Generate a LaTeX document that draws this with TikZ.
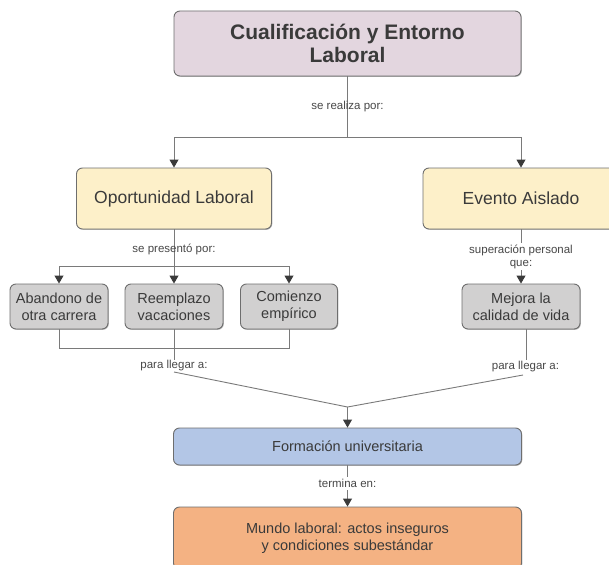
\documentclass[tikz,border=0pt]{standalone}
\usepackage{fontspec}
\setmainfont{Liberation Sans}
\usetikzlibrary{arrows.meta,shadows}

\definecolor{cTop}{HTML}{E3D6DF}
\definecolor{cYel}{HTML}{FDF0C9}
\definecolor{cGry}{HTML}{D1D0D0}
\definecolor{cBlu}{HTML}{B3C6E6}
\definecolor{cOra}{HTML}{F4B283}
\definecolor{boxline}{HTML}{6E6E6E}
\definecolor{linec}{HTML}{7A7A7A}
\definecolor{tipc}{HTML}{3A3A3A}
\definecolor{txt}{HTML}{3A3A3A}
\definecolor{lbltxt}{HTML}{474747}

\begin{document}
\begin{tikzpicture}[x=1pt,y=-1pt,
  box/.style={draw=boxline, line width=0.9pt, rounded corners=6pt, align=center,
    text=txt, inner sep=0pt,
    drop shadow={shadow xshift=0.8pt, shadow yshift=-0.8pt, opacity=0.3, fill=black}},
  big/.style={font=\fontsize{17.5}{21}\selectfont},
  mid/.style={font=\fontsize{14.5}{17}\selectfont},
  lbl/.style={font=\fontsize{11.5}{13}\selectfont, text=lbltxt, inner sep=1pt, align=center},
  link/.style={draw=linec, line width=0.9pt},
  arr/.style={link, -{Triangle[width=9pt,length=8pt,color=tipc]}},
]
\clip (0,0) rectangle (609,564);

% boxes
\node[box, fill=cTop, minimum width=347pt, minimum height=65pt,
  font=\fontsize{21}{23}\selectfont\bfseries] (top) at (347.5,43.5)
  {Cualificación y Entorno\\Laboral};
\node[box, fill=cYel, big, minimum width=195pt, minimum height=61pt] (op) at (174,198.5) {Oportunidad Laboral};
\node[box, fill=cYel, big, minimum width=196pt, minimum height=61pt] (ev) at (521,198.5) {Evento Aislado};
\node[box, fill=cGry, mid, minimum width=98pt, minimum height=45pt] (ab) at (59,306.5) {Abandono de\\otra carrera};
\node[box, fill=cGry, mid, minimum width=98pt, minimum height=45pt] (re) at (174,306.5) {Reemplazo\\vacaciones};
\node[box, fill=cGry, mid, minimum width=97pt, minimum height=45pt] (co) at (289,306.5) {Comienzo\\empírico};
\node[box, fill=cGry, mid, minimum width=118pt, minimum height=45pt] (me) at (521,306.5) {Mejora la\\calidad de vida};
\node[box, fill=cBlu, mid, minimum width=348pt, minimum height=37pt] (fo) at (347.5,446.5) {Formación universitaria};
\node[box, fill=cOra, font=\fontsize{14.5}{16.5}\selectfont, minimum width=348pt, minimum height=62pt] (mu) at (347.5,538)
  {Mundo laboral: actos inseguros\\y condiciones subestándar};

% junction points
\coordinate (jtop) at (347.5,137);
\coordinate (jop) at (174,266);
\coordinate (jbot) at (174,348);
\coordinate (lpl) at (174,360);
\coordinate (dl) at (174,372);
\coordinate (mr) at (526,329);
\coordinate (rpl) at (526,360);
\coordinate (dr) at (523,375);
\coordinate (meet) at (347.5,407);

% top split
\draw[link] (top.south) -- (jtop);
\draw[arr] (jtop) -| (op.north);
\draw[arr] (jtop) -| (ev.north);
\node[lbl] (l1) at (347.5,107) {se realiza por:};

% left branch
\draw[link] (op.south) -- (jop);
\draw[arr] (jop) -| (ab.north);
\draw[arr] (jop) -- (re.north);
\draw[arr] (jop) -| (co.north);
\node[lbl] (l2) at (174,249) {se presentó por:};

\draw[link] (ab.south) |- (jbot);
\draw[link] (co.south) |- (jbot);
\draw[link] (re.south) -- (lpl);
\node[lbl] (l3) at (174,365.5) {para llegar a:};
\draw[link] (dl) -- (meet);

% right branch
\draw[arr] (ev.south) -- (me.north);
\node[lbl, fill=white, inner sep=1.5pt] (l4) at (521,256.5) {superación personal\\que:};
\draw[link] (mr) -- (rpl);
\node[lbl] (l5) at (525.5,367) {para llegar a:};
\draw[link] (dr) -- (meet);

% bottom chain
\draw[arr] (meet) -- (fo.north);
\draw[arr] (fo.south) -- (mu.north);
\node[lbl, fill=white, inner sep=2pt] (l6) at (347.5,483.5) {termina en:};
\end{tikzpicture}
\end{document}
